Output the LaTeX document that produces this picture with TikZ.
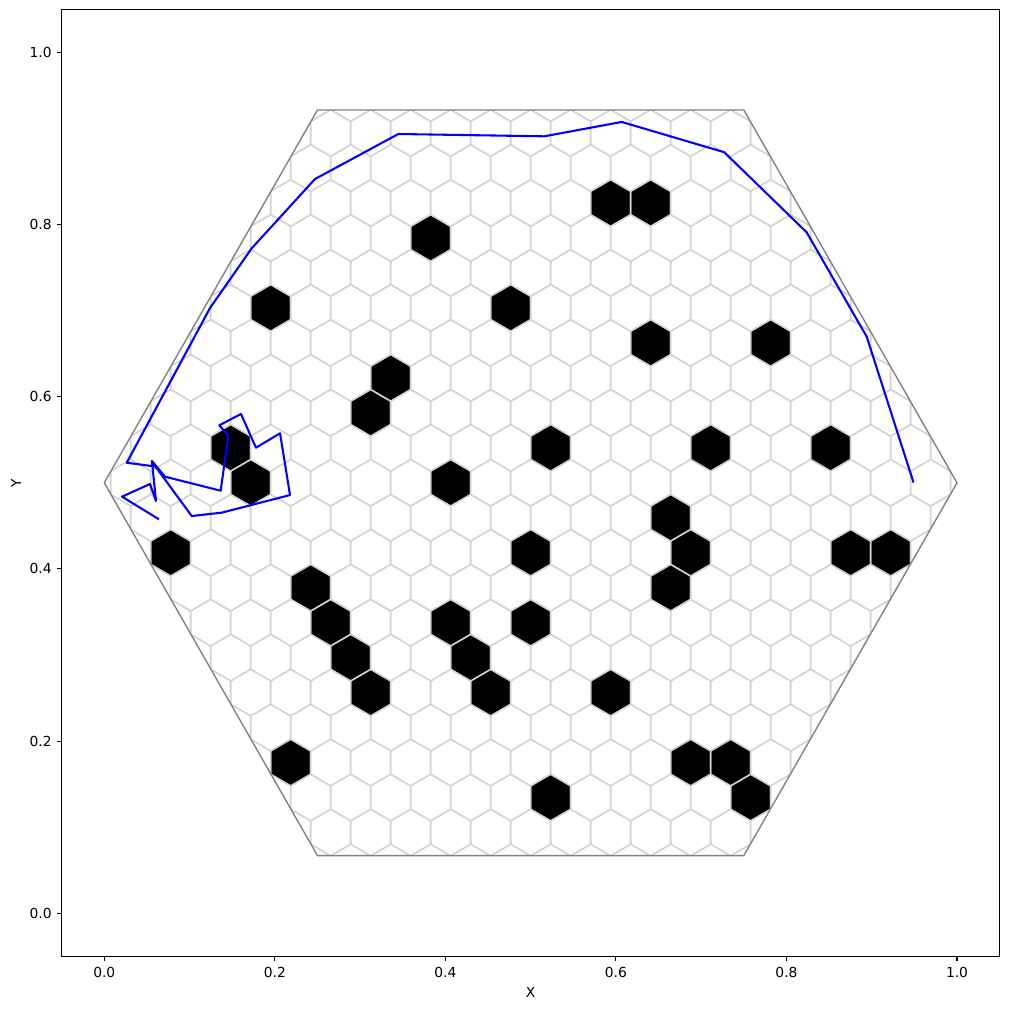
\documentclass[tikz,border=0pt]{standalone}
\usepackage{fontspec}
\setmainfont{DejaVu Sans}
\definecolor{mplgrid}{HTML}{D3D3D3}
\definecolor{mplgray}{HTML}{808080}
\definecolor{mplblue}{HTML}{0000FF}
\newcommand\hexcell[3][]{\path[#1] ({#2+0.023456},{#3+0.01354}) -- ({#2},{#3+0.02708}) -- ({#2-0.023456},{#3+0.01354}) -- ({#2-0.023456},{#3-0.01354}) -- ({#2},{#3-0.02708}) -- ({#2+0.023456},{#3-0.01354}) -- cycle;}
\begin{document}
\begin{tikzpicture}[
  gridline/.style={draw=mplgrid, line width=1pt},
  obstacle/.style={fill=black},
  border/.style={draw=mplgray, line width=1pt, line join=miter},
  track/.style={draw=mplblue, line width=1.5pt, line join=round, line cap=butt},
  frame/.style={draw=black, line width=0.8pt},
  tickmark/.style={draw=black, line width=0.8pt},
  ticklabel/.style={inner sep=0pt, font=\fontsize{10}{12}\selectfont},
  axlabel/.style={inner sep=0pt, font=\fontsize{10}{12}\selectfont}
]
\useasboundingbox (0,0) rectangle (10.09in,10.09in);
\begin{scope}[shift={(1.043in,0.957in)}, x=8.527in, y=8.61in]
  % obstacle cells
  \foreach \j/\m in {8/4, 8/6, 7/-5, 5/-13, 5/-1, 4/6, 4/12, 3/-7, 2/-8, 1/-15, 1/1, 1/9, 1/15, 0/-14, 0/-4, -1/7, -2/-18, -2/0, -2/8, -2/16, -2/18, -3/-11, -3/7, -4/-10, -4/-4, -4/0, -5/-9, -5/-3, -6/-8, -6/-2, -6/4, -8/-12, -8/8, -8/10, -9/11, -9/1}{
    \pgfmathsetmacro\cx{0.5+\m*0.023456}
    \pgfmathsetmacro\cy{0.5+\j*0.040626}
    \hexcell[obstacle]{\cx}{\cy}
  }
  % hex grid clipped to the big hexagon
  \begin{scope}
    \clip (0,0.5) -- (0.25,0.9330) -- (0.75,0.9330) -- (1,0.5) -- (0.75,0.0670) -- (0.25,0.0670) -- cycle;
    \foreach \j in {-11,...,11}{
      \foreach \k in {-11,...,11}{
        \pgfmathsetmacro\cx{0.5+(2*\k+mod(abs(\j),2))*0.023456}
        \pgfmathsetmacro\cy{0.5+\j*0.040626}
        \hexcell[gridline]{\cx}{\cy}
      }
    }
  \end{scope}
  % outer hexagon
  \path[border] (0,0.5) -- (0.25,0.9330) -- (0.75,0.9330) -- (1,0.5) -- (0.75,0.0670) -- (0.25,0.0670) -- cycle;
  % trajectory
  \path[track] plot coordinates {(0.949,0.5003) (0.8941,0.6697) (0.8237,0.7909) (0.7271,0.8839) (0.6068,0.9191) (0.5160,0.9024) (0.3448,0.9051) (0.2471,0.8528) (0.1729,0.7724) (0.1240,0.7030) (0.0263,0.5233) (0.0600,0.5189) (0.1025,0.4614) (0.1377,0.4653) (0.2178,0.4858) (0.2061,0.5575) (0.1779,0.5408) (0.1603,0.5799) (0.1349,0.5668) (0.1454,0.5544) (0.1365,0.4908) (0.0712,0.5071) (0.0559,0.5253) (0.0606,0.4789) (0.0536,0.4986) (0.0208,0.4839) (0.0641,0.4576)};
  % axes frame
  \path[frame] (-0.05,-0.05) rectangle (1.05,1.05);
  % x ticks
  \foreach \v [count=\i] in {0.0,0.2,0.4,0.6,0.8,1.0}{
    \path[tickmark] (\v,-0.05) -- ++(0,-3.5pt);
    \path (\v,-0.05) ++(0,-7.5pt) node[ticklabel, anchor=north] (xt\i) {\v};
  }
  % y ticks
  \foreach \v [count=\i] in {0.0,0.2,0.4,0.6,0.8,1.0}{
    \path[tickmark] (-0.05,\v) -- ++(-3.5pt,0);
    \path (-0.05,\v) ++(-7pt,0) node[ticklabel, anchor=east] (yt\i) {\v};
  }
  % axis labels
  \path (0.5,-0.05) ++(0,-26pt) node[axlabel] (xlab) {X};
  \path (-0.05,0.5) ++(-33pt,0) node[axlabel, rotate=90] (ylab) {Y};
\end{scope}
\end{tikzpicture}
\end{document}
